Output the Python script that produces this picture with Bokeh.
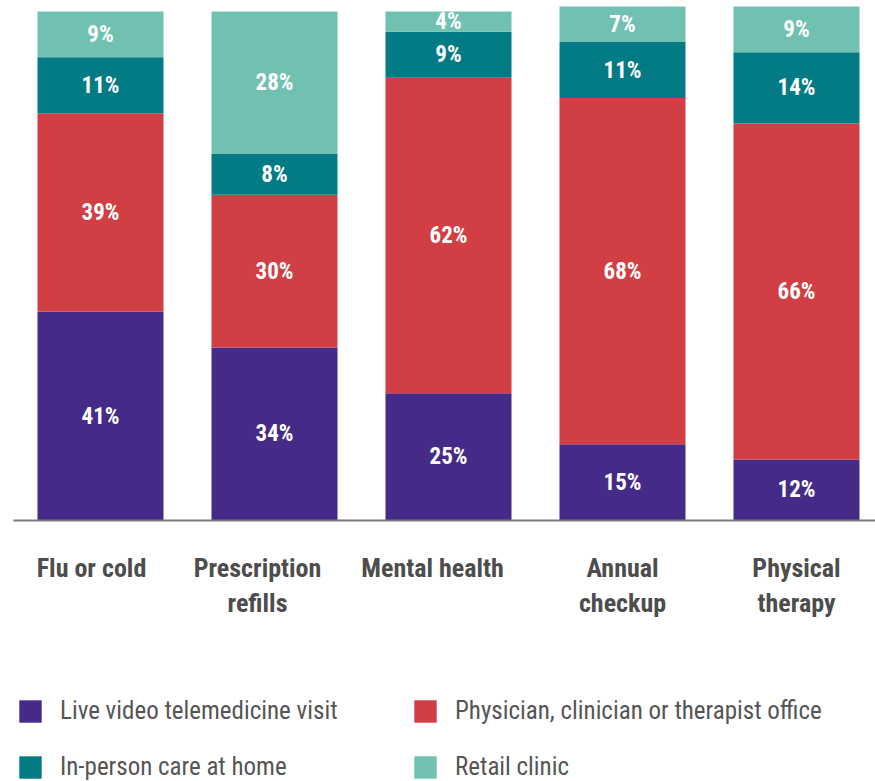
import numpy as np
from bokeh.plotting import figure
from bokeh.models import ColumnDataSource, Legend, LegendItem
from bokeh.core.properties import value
from bokeh.embed import file_html
from bokeh.resources import INLINE

categories = ["Flu or cold", "Prescription refills", "Mental health", "Annual checkup", "Physical therapy"]
cat_line1 = ["Flu or cold", "Prescription", "Mental health", "Annual", "Physical"]
cat_line2 = ["", "refills", "", "checkup", "therapy"]
series_names = ["Live video telemedicine visit", "Physician, clinician or therapist office",
                "In-person care at home", "Retail clinic"]
live_video = [41, 34, 25, 15, 12]
office = [39, 30, 62, 68, 66]
home_care = [11, 8, 9, 11, 14]
retail = [9, 28, 4, 7, 9]
colors = ["#452b87", "#d13f45", "#027b85", "#70c1b1"]

FONT = "Roboto Condensed"

xs = list(range(len(categories)))
keys = ["live", "office", "home", "retail"]
source = ColumnDataSource(dict(x=xs, live=live_video, office=office, home=home_care, retail=retail))

px_per_unit_x = 174.0
px_per_unit_y = 5.09
W, H = 875, 781
x_start = -100.0 / px_per_unit_x
x_end = x_start + W / px_per_unit_x
y_top = 520.0 / px_per_unit_y
y_bottom = y_top - H / px_per_unit_y

p = figure(width=W, height=H, x_range=(x_start, x_end), y_range=(y_bottom, y_top),
           output_backend="svg", toolbar_location=None, min_border=0,
           min_border_left=0, min_border_right=0, min_border_top=0, min_border_bottom=0)
p.axis.visible = False
p.grid.visible = False
p.outline_line_color = None
p.background_fill_color = "white"
p.border_fill_color = "white"

renderers = p.vbar_stack(keys, x="x", width=126.0 / px_per_unit_x, color=colors, source=source,
                         line_color=None)

# baseline axis line
p.segment(x0=[-0.5], y0=[0], x1=[x_end], y1=[0], line_color="#7a7a7a", line_width=2)

# percent labels
vals = np.array([live_video, office, home_care, retail], dtype=float)
cum = np.cumsum(vals, axis=0)
centers = cum - vals / 2
lx, ly, lt = [], [], []
for s in range(vals.shape[0]):
    for i in range(vals.shape[1]):
        lx.append(xs[i])
        ly.append(centers[s, i])
        lt.append(f"{int(vals[s, i])}%")
p.text(x=lx, y=ly, text=lt, text_align="center", text_baseline="middle",
       text_color="white", text_font=value(FONT), text_font_style="bold",
       text_font_size="23px")

# category labels (slight horizontal shifts as in the original layout)
label_shift = [-9, -17, -16, 0, 0]
lab_src = ColumnDataSource(dict(x=xs, y=[0] * len(xs), l1=cat_line1, l2=cat_line2, dx=label_shift))
p.text(x="x", y="y", text="l1", x_offset="dx", y_offset=47, text_align="center",
       text_baseline="middle", text_color="#4d4d4d", text_font=value(FONT),
       text_font_style="bold", text_font_size="26px", source=lab_src)
p.text(x="x", y="y", text="l2", x_offset="dx", y_offset=82, text_align="center",
       text_baseline="middle", text_color="#4d4d4d", text_font=value(FONT),
       text_font_style="bold", text_font_size="26px", source=lab_src)

items = [LegendItem(label=series_names[i], renderers=[renderers[i]]) for i in range(4)]
legend = Legend(items=items, orientation="horizontal", ncols=2, location=(16, 0),
                glyph_width=28, glyph_height=28, label_standoff=16, spacing=27,
                label_width=324, padding=0, margin=0, border_line_color=None,
                background_fill_alpha=0, label_text_font=FONT, label_text_font_size="25px",
                label_text_color="#555555", label_height=28)
p.add_layout(legend)

open("out.html", "w").write(file_html(p, INLINE))
